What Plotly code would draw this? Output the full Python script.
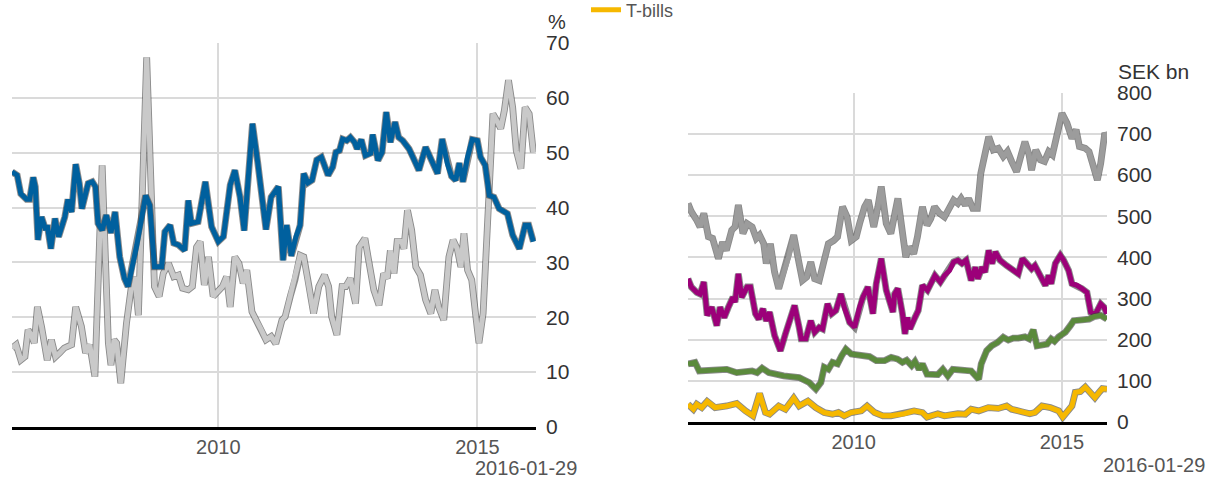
import pandas as pd
import plotly.graph_objects as go

# ---------------- data (decimal years) ----------------
# Left panel, %
blue_t = [2006.02, 2006.12, 2006.19, 2006.30, 2006.36, 2006.43, 2006.47, 2006.52, 2006.59, 2006.67,
          2006.70, 2006.77, 2006.85, 2006.92, 2007.04, 2007.10, 2007.17, 2007.25, 2007.32, 2007.37,
          2007.49, 2007.57, 2007.63, 2007.68, 2007.76, 2007.84, 2007.93, 2008.01, 2008.10, 2008.19,
          2008.26, 2008.43, 2008.60, 2008.68, 2008.77, 2008.91, 2008.97, 2009.07, 2009.14, 2009.23,
          2009.35, 2009.42, 2009.48, 2009.61, 2009.75, 2009.87, 2010.00, 2010.10, 2010.23, 2010.32,
          2010.42, 2010.50, 2010.58, 2010.66, 2010.76, 2010.84, 2010.92, 2011.02, 2011.16, 2011.25,
          2011.32, 2011.41, 2011.50, 2011.58, 2011.65, 2011.73, 2011.81, 2011.90, 2011.99, 2012.12,
          2012.21, 2012.27, 2012.34, 2012.40, 2012.48, 2012.55, 2012.63, 2012.68, 2012.76, 2012.84,
          2012.94, 2012.98, 2013.08, 2013.16, 2013.24, 2013.32, 2013.41, 2013.48, 2013.56, 2013.68,
          2013.77, 2013.87, 2014.00, 2014.12, 2014.23, 2014.32, 2014.42, 2014.50, 2014.58, 2014.65,
          2014.72, 2014.81, 2014.90, 2015.00, 2015.06, 2015.15, 2015.23, 2015.32, 2015.42, 2015.58,
          2015.68, 2015.81, 2015.92, 2015.99, 2016.08]
blue_v = [46.5, 45.9, 42.5, 41.5, 41.5, 45.5, 43.8, 34.1, 38.3, 35.9,
          36.8, 32.5, 38.0, 34.7, 38.3, 41.5, 39.2, 47.9, 44.4, 39.8,
          44.4, 44.7, 43.8, 37.1, 35.9, 38.6, 35.4, 39.2, 31.0, 27.1,
          25.6, 33.2, 42.2, 40.4, 29.2, 29.2, 35.6, 36.8, 33.5, 33.2,
          32.2, 41.3, 37.1, 37.4, 44.7, 36.5, 33.8, 34.7, 44.1, 46.8,
          41.9, 35.8, 45.6, 55.3, 48.3, 41.3, 36.0, 41.9, 43.8, 30.4,
          36.8, 31.2, 34.7, 36.8, 46.2, 44.5, 45.0, 48.7, 49.2, 45.9,
          47.4, 50.1, 50.4, 52.5, 52.2, 52.8, 51.9, 50.7, 52.4, 49.5,
          49.9, 53.3, 48.6, 50.1, 57.4, 51.9, 55.6, 52.8, 52.2, 50.7,
          48.9, 46.8, 51.0, 48.3, 46.2, 52.5, 48.0, 45.7, 45.0, 48.1,
          44.7, 49.2, 52.4, 52.2, 49.2, 47.7, 42.2, 41.9, 39.8, 38.9,
          35.0, 32.5, 36.8, 36.8, 33.8]

lgrey_t = [2006.02, 2006.10, 2006.19, 2006.27, 2006.33, 2006.39, 2006.45, 2006.51, 2006.59, 2006.70,
           2006.78, 2006.86, 2006.94, 2007.03, 2007.17, 2007.25, 2007.36, 2007.44, 2007.52, 2007.62,
           2007.76, 2007.88, 2007.93, 2007.99, 2008.04, 2008.12, 2008.23, 2008.32, 2008.39, 2008.46,
           2008.62, 2008.77, 2008.86, 2008.94, 2009.04, 2009.14, 2009.23, 2009.31, 2009.42, 2009.50,
           2009.58, 2009.65, 2009.73, 2009.81, 2009.90, 2010.00, 2010.08, 2010.16, 2010.23, 2010.32,
           2010.40, 2010.48, 2010.55, 2010.65, 2010.74, 2010.83, 2010.92, 2011.02, 2011.11, 2011.23,
           2011.29, 2011.39, 2011.48, 2011.58, 2011.65, 2011.73, 2011.84, 2011.94, 2012.05, 2012.13,
           2012.19, 2012.29, 2012.39, 2012.46, 2012.55, 2012.59, 2012.65, 2012.72, 2012.83, 2012.90,
           2013.00, 2013.10, 2013.19, 2013.26, 2013.32, 2013.39, 2013.45, 2013.54, 2013.58, 2013.65,
           2013.73, 2013.81, 2013.90, 2014.00, 2014.10, 2014.18, 2014.25, 2014.35, 2014.45, 2014.53,
           2014.61, 2014.68, 2014.74, 2014.81, 2014.89, 2014.97, 2015.03, 2015.11, 2015.30, 2015.37,
           2015.45, 2015.52, 2015.60, 2015.68, 2015.75, 2015.84, 2015.92, 2016.00, 2016.08]
lgrey_v = [14.4, 15.0, 12.2, 12.8, 17.7, 16.8, 15.3, 21.9, 18.3, 12.2,
           15.9, 12.8, 13.5, 14.4, 15.0, 21.9, 18.3, 13.5, 15.0, 9.2,
           47.7, 15.3, 11.3, 15.9, 15.3, 8.0, 18.9, 25.3, 27.4, 20.4,
           67.4, 25.6, 23.8, 28.0, 29.8, 27.4, 27.7, 25.3, 25.0, 25.6,
           32.8, 33.8, 25.9, 31.0, 23.8, 25.0, 25.6, 27.4, 21.9, 31.0,
           29.8, 26.2, 28.6, 21.0, 19.5, 17.7, 15.9, 16.5, 15.2, 19.5,
           20.1, 23.8, 26.8, 31.3, 31.0, 26.8, 20.7, 25.6, 27.7, 25.6,
           20.1, 16.8, 25.6, 25.6, 27.1, 25.0, 22.5, 32.8, 34.4, 30.5,
           25.0, 22.2, 28.0, 27.1, 32.2, 28.0, 33.8, 33.8, 32.5, 39.5,
           35.9, 29.2, 27.7, 23.2, 20.7, 25.0, 21.9, 19.5, 31.0, 34.1,
           32.5, 29.2, 35.3, 28.6, 26.8, 20.1, 15.3, 20.7, 57.1, 55.9,
           54.4, 57.7, 63.2, 58.3, 50.4, 47.1, 58.3, 57.1, 50.1]

# Right panel, SEK bn
dgrey_t = [2006.02, 2006.10, 2006.23, 2006.31, 2006.40, 2006.51, 2006.61, 2006.75, 2006.85, 2006.94,
           2007.07, 2007.15, 2007.23, 2007.34, 2007.44, 2007.56, 2007.66, 2007.74, 2007.84, 2007.90,
           2008.00, 2008.10, 2008.20, 2008.32, 2008.44, 2008.56, 2008.69, 2008.77, 2008.87, 2008.97,
           2009.06, 2009.17, 2009.29, 2009.39, 2009.52, 2009.61, 2009.73, 2009.84, 2009.94, 2010.06,
           2010.14, 2010.26, 2010.35, 2010.48, 2010.58, 2010.66, 2010.78, 2010.89, 2011.06, 2011.17,
           2011.25, 2011.33, 2011.44, 2011.53, 2011.65, 2011.76, 2011.85, 2011.94, 2012.06, 2012.18,
           2012.30, 2012.40, 2012.50, 2012.58, 2012.68, 2012.76, 2012.86, 2012.97, 2013.05, 2013.15,
           2013.24, 2013.35, 2013.47, 2013.59, 2013.69, 2013.79, 2013.91, 2014.02, 2014.11, 2014.21,
           2014.27, 2014.37, 2014.48, 2014.58, 2014.68, 2014.77, 2014.88, 2015.00, 2015.12, 2015.24,
           2015.34, 2015.42, 2015.56, 2015.65, 2015.77, 2015.85, 2015.93, 2016.03, 2016.08]
dgrey_v = [531, 511, 490, 474, 507, 450, 446, 397, 437, 417,
           466, 474, 527, 458, 482, 474, 446, 454, 433, 385,
           433, 364, 324, 364, 401, 454, 385, 344, 352, 389,
           348, 344, 393, 433, 441, 450, 523, 498, 441, 450,
           482, 523, 539, 474, 523, 572, 482, 458, 543, 466,
           401, 425, 409, 450, 523, 478, 494, 523, 507, 498,
           519, 539, 531, 543, 527, 543, 519, 519, 604, 653,
           693, 661, 665, 645, 657, 633, 608, 649, 681, 649,
           612, 661, 637, 633, 657, 649, 702, 750, 726, 689,
           710, 669, 665, 657, 616, 588, 628, 702, 693]

purple_t = [2006.02, 2006.10, 2006.23, 2006.31, 2006.40, 2006.48, 2006.59, 2006.71, 2006.79, 2006.89,
            2006.99, 2007.10, 2007.15, 2007.23, 2007.31, 2007.44, 2007.52, 2007.64, 2007.72, 2007.82,
            2007.90, 2007.98, 2008.10, 2008.24, 2008.36, 2008.48, 2008.58, 2008.69, 2008.74, 2008.85,
            2008.97, 2009.06, 2009.17, 2009.25, 2009.37, 2009.47, 2009.57, 2009.69, 2009.77, 2009.90,
            2010.02, 2010.14, 2010.22, 2010.34, 2010.46, 2010.54, 2010.66, 2010.78, 2010.94, 2010.98,
            2011.06, 2011.17, 2011.23, 2011.29, 2011.35, 2011.47, 2011.55, 2011.65, 2011.77, 2011.87,
            2011.95, 2012.08, 2012.18, 2012.30, 2012.40, 2012.50, 2012.60, 2012.70, 2012.82, 2012.92,
            2012.98, 2013.08, 2013.15, 2013.24, 2013.32, 2013.40, 2013.51, 2013.67, 2013.83, 2013.95,
            2014.05, 2014.15, 2014.27, 2014.35, 2014.48, 2014.60, 2014.68, 2014.74, 2014.84, 2014.96,
            2015.04, 2015.16, 2015.24, 2015.36, 2015.48, 2015.60, 2015.69, 2015.81, 2015.93, 2016.01,
            2016.08]
purple_v = [348, 328, 315, 311, 340, 259, 279, 234, 279, 254,
            279, 303, 291, 360, 303, 328, 328, 263, 250, 275,
            246, 267, 210, 173, 214, 254, 283, 230, 202, 202,
            246, 218, 230, 226, 287, 263, 271, 311, 279, 242,
            230, 279, 303, 328, 263, 336, 397, 320, 267, 311,
            324, 263, 214, 254, 226, 254, 271, 332, 320, 340,
            356, 340, 356, 368, 389, 393, 385, 393, 344, 376,
            348, 376, 364, 417, 385, 413, 393, 380, 368, 360,
            397, 385, 372, 380, 352, 332, 356, 336, 385, 405,
            393, 368, 336, 332, 324, 315, 267, 263, 287, 279,
            263]

green_t = [2006.02, 2006.19, 2006.29, 2006.55, 2006.95, 2007.19, 2007.56, 2007.68, 2007.80, 2007.96,
           2008.32, 2008.69, 2008.93, 2009.09, 2009.21, 2009.29, 2009.39, 2009.49, 2009.61, 2009.71,
           2009.81, 2009.94, 2010.18, 2010.38, 2010.54, 2010.74, 2010.90, 2011.05, 2011.17, 2011.27,
           2011.39, 2011.47, 2011.57, 2011.65, 2011.76, 2012.02, 2012.14, 2012.26, 2012.38, 2012.82,
           2013.00, 2013.06, 2013.19, 2013.31, 2013.45, 2013.59, 2013.71, 2013.83, 2013.95, 2014.11,
           2014.21, 2014.31, 2014.40, 2014.52, 2014.64, 2014.74, 2014.82, 2014.92, 2015.08, 2015.20,
           2015.28, 2015.48, 2015.65, 2015.77, 2015.93, 2016.08]
green_v = [141, 145, 124, 126, 128, 120, 124, 120, 131, 120,
           112, 108, 96, 80, 96, 133, 128, 145, 141, 161,
           177, 165, 161, 159, 149, 149, 157, 153, 145, 150,
           137, 147, 128, 141, 116, 115, 128, 112, 128, 124,
           104, 141, 173, 185, 193, 206, 199, 204, 204, 207,
           202, 224, 185, 188, 189, 202, 196, 207, 218, 234,
           246, 248, 250, 256, 259, 250]

tbill_t = [2006.02, 2006.15, 2006.23, 2006.35, 2006.48, 2006.67, 2006.95, 2007.19, 2007.40, 2007.58,
           2007.74, 2007.88, 2007.98, 2008.20, 2008.36, 2008.56, 2008.69, 2008.90, 2009.09, 2009.29,
           2009.49, 2009.63, 2009.77, 2009.94, 2010.18, 2010.32, 2010.50, 2010.70, 2010.89, 2011.21,
           2011.45, 2011.65, 2011.76, 2012.02, 2012.18, 2012.50, 2012.68, 2012.82, 2013.00, 2013.23,
           2013.47, 2013.67, 2013.79, 2014.03, 2014.23, 2014.35, 2014.52, 2014.72, 2014.92, 2015.02,
           2015.15, 2015.24, 2015.32, 2015.44, 2015.56, 2015.69, 2015.79, 2015.89, 2015.97, 2016.08]
tbill_v = [43, 31, 43, 35, 50, 35, 39, 45, 27, 15,
           69, 23, 19, 39, 31, 58, 39, 51, 35, 23,
           19, 23, 15, 23, 27, 39, 23, 15, 15, 20,
           27, 23, 12, 20, 15, 20, 19, 31, 27, 35,
           33, 39, 31, 25, 20, 23, 39, 35, 27, 12,
           31, 39, 72, 74, 85, 72, 59, 72, 81, 80]

left_ticks = [0, 10, 20, 30, 40, 50, 60, 70]
right_ticks = [0, 100, 200, 300, 400, 500, 600, 700, 800]
x_tickvals = ["2010-01-01", "2015-01-01"]
x_ticktext = ["2010", "2015"]
last_date = "2016-01-29"


def to_dates(ts):
    out = []
    for t in ts:
        y = int(t)
        out.append(pd.Timestamp(y, 1, 1) + pd.Timedelta(days=(t - y) * 365.25))
    return out


W, H = 1208, 478
FONT = "Liberation Sans, Arial, sans-serif"
GRID = "#dadada"


def px(x):
    return x / W


def py(y):
    return (H - y) / H


fig = go.Figure()


def add_line(t, v, color, xa, ya, name=None, show=False):
    d = to_dates(t)
    fig.add_trace(go.Scatter(x=d, y=v, mode="lines", xaxis=xa, yaxis=ya,
                             line=dict(color="rgba(60,60,60,0.6)", width=6.8),
                             showlegend=False, hoverinfo="skip"))
    fig.add_trace(go.Scatter(x=d, y=v, mode="lines", xaxis=xa, yaxis=ya, name=name,
                             line=dict(color=color, width=5), showlegend=show))


add_line(lgrey_t, lgrey_v, "#c9c9c9", "x", "y")
add_line(blue_t, blue_v, "#00609e", "x", "y")
add_line(dgrey_t, dgrey_v, "#9c9c9c", "x2", "y2")
add_line(purple_t, purple_v, "#9c0079", "x2", "y2")
add_line(green_t, green_v, "#5b8a3c", "x2", "y2")
add_line(tbill_t, tbill_v, "#f6b800", "x2", "y2", name="T-bills", show=True)

x0 = to_dates([2006.02])[0]
x1 = pd.Timestamp(last_date)

common_x = dict(type="date", showgrid=True, gridcolor=GRID, gridwidth=2,
                tickvals=x_tickvals, ticktext=x_ticktext, ticks="",
                showline=True, linecolor="black", linewidth=3, zeroline=False,
                tickfont=dict(family=FONT, size=20, color="#555555"))
common_y = dict(side="right", showgrid=True, gridcolor=GRID, gridwidth=2, zeroline=False,
                showline=False, ticks="", ticklabelstandoff=9,
                tickfont=dict(family=FONT, size=21, color="#333333"))

fig.update_layout(
    width=W, height=H,
    margin=dict(l=0, r=0, t=0, b=0, autoexpand=False),
    paper_bgcolor="white", plot_bgcolor="white",
    font=dict(family=FONT, color="#444444"),
    xaxis=dict(domain=[px(12), px(536)], range=[x0, x1 + pd.Timedelta(days=20)], anchor="y", **common_x),
    yaxis=dict(domain=[py(427), py(43)], range=[0, 70], tickvals=left_ticks,
               anchor="x", **common_y),
    xaxis2=dict(domain=[px(688), px(1107)], range=[x0, x1 + pd.Timedelta(days=2)], anchor="y2", **common_x),
    yaxis2=dict(domain=[py(422), py(92.7)], range=[0, 800], tickvals=right_ticks,
                anchor="x2", **common_y),
    legend=dict(x=px(586), y=py(10), xanchor="left", yanchor="middle", orientation="h",
                font=dict(family=FONT, size=18, color="#555555"), itemwidth=30,
                bgcolor="rgba(0,0,0,0)"),
    showlegend=True,
    annotations=[
        dict(text="%", x=px(557), y=py(22), xref="paper", yref="paper", showarrow=False,
             xanchor="center", yanchor="middle", font=dict(family=FONT, size=20, color="#333333")),
        dict(text="SEK bn", x=px(1116), y=py(72), xref="paper", yref="paper", showarrow=False,
             xanchor="left", yanchor="middle", font=dict(family=FONT, size=21, color="#333333")),
        dict(text=last_date, x=px(579), y=py(468), xref="paper", yref="paper", showarrow=False,
             xanchor="right", yanchor="middle", font=dict(family=FONT, size=20, color="#555555")),
        dict(text=last_date, x=px(1207), y=py(465), xref="paper", yref="paper", showarrow=False,
             xanchor="right", yanchor="middle", font=dict(family=FONT, size=20, color="#555555")),
    ],
)

fig.write_html("out.html", config={"displayModeBar": False},
               post_script="document.body.style.margin='0';")
